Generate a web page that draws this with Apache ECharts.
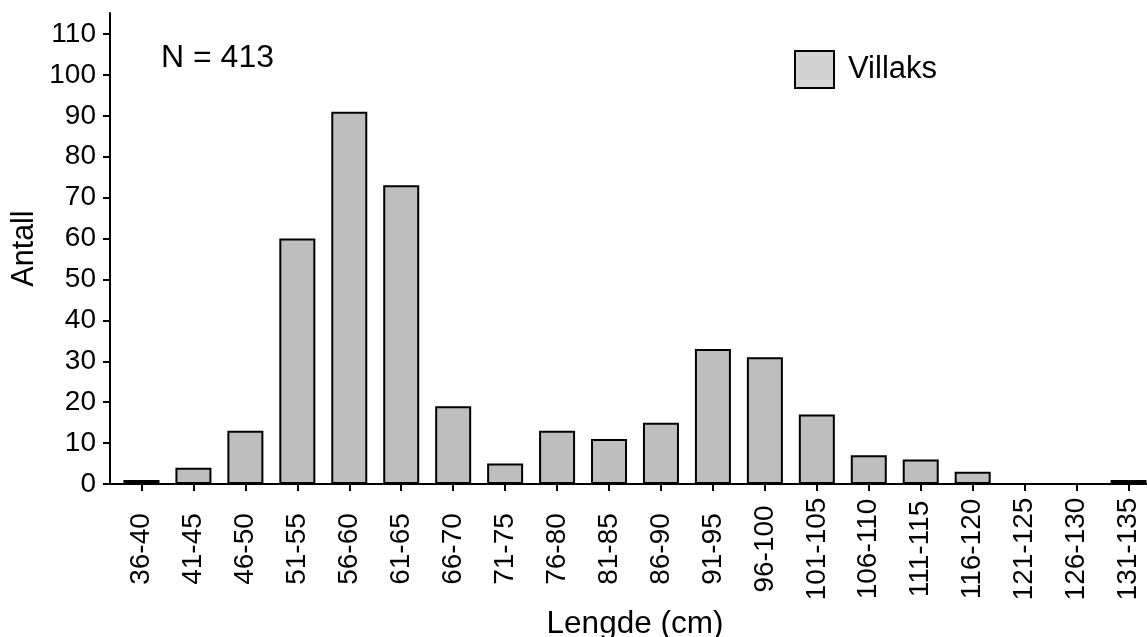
<!DOCTYPE html>
<html>
<head>
<meta charset="utf-8">
<script src="https://cdn.jsdelivr.net/npm/echarts@6/dist/echarts.min.js"></script>
<style>
html,body{margin:0;padding:0;background:#fff;}
#chart{width:1147px;height:637px;}
</style>
</head>
<body>
<div id="chart"></div>
<script>
const categories = ['36-40','41-45','46-50','51-55','56-60','61-65','66-70','71-75','76-80','81-85','86-90','91-95','96-100','101-105','106-110','111-115','116-120','121-125','126-130','131-135'];
const villaks = [1,4,13,60,91,73,19,5,13,11,15,33,31,17,7,6,3,0,0,1];
const seriesName = 'Villaks';
const annotation = 'N = 413';
const yTicks = { min: 0, max: 110, interval: 10 };

const FONT = 'Liberation Sans, Arial, sans-serif';
const barData = villaks.map(v => v === 0 ? {value: v, itemStyle: {borderWidth: 0}} : v);
const chart = echarts.init(document.getElementById('chart'), null, {renderer: 'canvas'});
chart.setOption({
  animation: false,
  backgroundColor: '#ffffff',
  title: {
    text: annotation,
    left: 161, top: 42, padding: 0,
    textStyle: {fontFamily: FONT, fontSize: 32, fontWeight: 'normal', color: '#000'}
  },
  legend: {
    left: 794, top: 50, padding: 0,
    itemWidth: 39, itemHeight: 37,
    data: [{name: seriesName, icon: 'rect', itemStyle: {color: '#d3d3d3', borderColor: '#000', borderWidth: 2}}],
    textStyle: {fontFamily: FONT, fontSize: 31, color: '#000', padding: [0,0,0,9]}
  },
  grid: [
    {left: 110, right: 0, top: 13, bottom: 153, containLabel: false, outerBoundsMode: 'none'},
    {left: 115.5, width: 1039, top: 34, bottom: 153, containLabel: false, outerBoundsMode: 'none'}
  ],
  xAxis: [
    {gridIndex: 0, type: 'value', min: 0, max: 1,
     axisLine: {show: true, lineStyle: {color: '#000', width: 2}},
     axisTick: {show: false}, axisLabel: {show: false}, splitLine: {show: false}},
    {gridIndex: 1, type: 'category', data: categories,
     axisLine: {show: false},
     axisTick: {show: true, alignWithLabel: true, length: 7, lineStyle: {color: '#000', width: 2}},
     axisLabel: {rotate: 90, align: 'center', verticalAlign: 'middle', margin: 65, interval: 0,
                 fontFamily: FONT, fontSize: 28, color: '#000'},
     splitLine: {show: false},
     name: 'Lengde (cm)', nameLocation: 'middle', nameGap: 122,
     nameTextStyle: {fontFamily: FONT, fontSize: 31.5, color: '#000'}}
  ],
  yAxis: [
    {gridIndex: 0, type: 'value', min: 0, max: 1,
     axisLine: {show: true, lineStyle: {color: '#000', width: 2}},
     axisTick: {show: false}, axisLabel: {show: false}, splitLine: {show: false},
     name: 'Antall', nameLocation: 'middle', nameGap: 70,
     nameTextStyle: {fontFamily: FONT, fontSize: 30.5, color: '#000'}},
    {gridIndex: 1, type: 'value', min: yTicks.min, max: yTicks.max, interval: yTicks.interval,
     offset: 5.5,
     axisLine: {show: false},
     axisTick: {show: true, length: 7, lineStyle: {color: '#000', width: 2}},
     axisLabel: {margin: 14, fontFamily: FONT, fontSize: 28, color: '#000'},
     splitLine: {show: false}}
  ],
  series: [{
    name: seriesName, type: 'bar', xAxisIndex: 1, yAxisIndex: 1,
    data: barData, barWidth: 36,
    itemStyle: {color: '#bebebe', borderColor: '#000', borderWidth: 2}
  }]
});
</script>
</body>
</html>
